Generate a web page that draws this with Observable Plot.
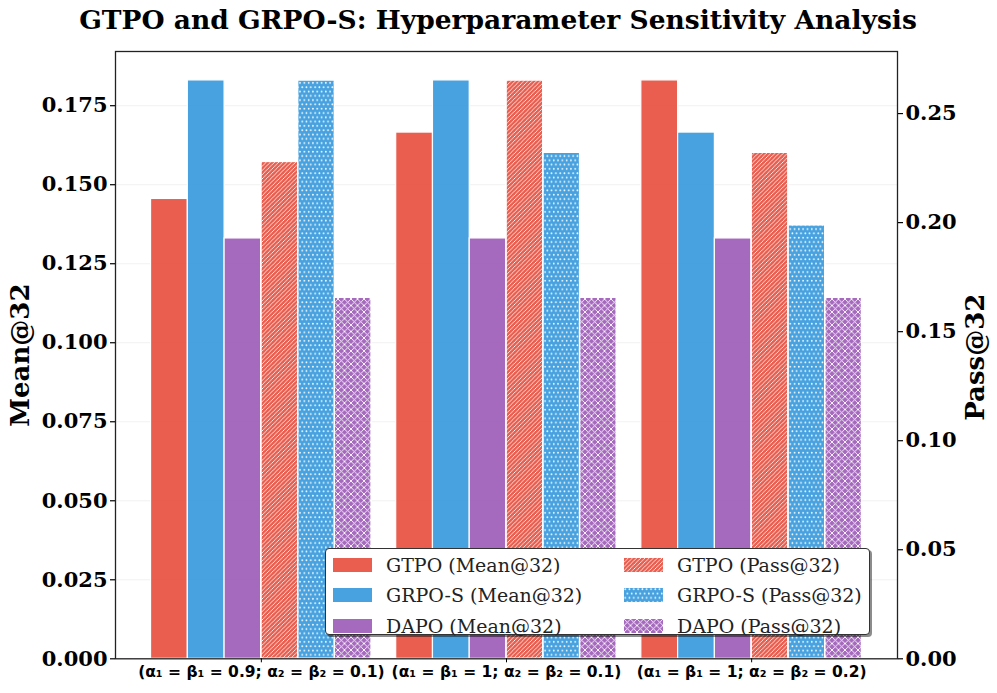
<!DOCTYPE html>
<html>
<head>
<meta charset="utf-8">
<script src="https://cdn.jsdelivr.net/npm/d3@7"></script>
<script src="https://cdn.jsdelivr.net/npm/@observablehq/plot@0.6"></script>
<style>
  html, body { margin: 0; padding: 0; background: #fff; }
  #wrap { position: relative; width: 997px; height: 693px; }
  #legend { position: absolute; left: 325px; top: 548px; width: 545px; height: 87px;
    box-sizing: border-box; border: 1px solid #333; border-radius: 4px; background: #fff;
    box-shadow: 2px 2px 0 rgba(0,0,0,0.45); font-family: "DejaVu Serif", serif; font-size: 19px; color: #222; }
  .item { position: absolute; height: 20px; display: flex; align-items: center; }
  .item svg { display: block; }
  .item span { position: absolute; left: 53px; white-space: nowrap; line-height: 20px; top: 0; }
</style>
</head>
<body>
<svg width="0" height="0" style="position:absolute">
  <defs>
    <pattern id="hatch-diag" patternUnits="userSpaceOnUse" width="4.2" height="4.2">
      <path d="M-1,1 L1,-1 M0,4.2 L4.2,0 M3.2,5.2 L5.2,3.2" stroke="#fff" stroke-width="0.8"/>
    </pattern>
    <pattern id="hatch-dots" patternUnits="userSpaceOnUse" width="4.3" height="8.6">
      <circle cx="1.2" cy="1.2" r="0.85" fill="#fff"/>
      <circle cx="3.35" cy="5.5" r="0.85" fill="#fff"/>
    </pattern>
    <pattern id="hatch-cross" patternUnits="userSpaceOnUse" width="6.5" height="6.5">
      <path d="M-1,1 L1,-1 M0,6.5 L6.5,0 M5.5,7.5 L7.5,5.5 M-1,5.5 L1,7.5 M0,0 L6.5,6.5 M5.5,-1 L7.5,1" stroke="#fff" stroke-width="0.9"/>
    </pattern>
  </defs>
</svg>
<div id="wrap"></div>
<script>
// ---- data ----
const groups = ["(α₁ = β₁ = 0.9; α₂ = β₂ = 0.1)", "(α₁ = β₁ = 1; α₂ = β₂ = 0.1)", "(α₁ = β₁ = 1; α₂ = β₂ = 0.2)"];
const methods = ["GTPO", "GRPO-S", "DAPO"];
const colors = ["#e74c3c", "#3498db", "#9b59b6"];
const patterns = ["url(#hatch-diag)", "url(#hatch-dots)", "url(#hatch-cross)"];
const meanGTPO  = [0.1455, 0.1665, 0.1830];
const meanGRPOS = [0.1830, 0.1830, 0.1665];
const meanDAPO  = [0.1330, 0.1330, 0.1330];
const passGTPO  = [0.2278, 0.2652, 0.2320];
const passGRPOS = [0.2652, 0.2320, 0.1988];
const passDAPO  = [0.1655, 0.1655, 0.1655];
const leftTicks  = [0, 0.025, 0.05, 0.075, 0.1, 0.125, 0.15, 0.175];
const rightTicks = [0, 0.05, 0.1, 0.15, 0.2, 0.25];

const meanVals = [meanGTPO, meanGRPOS, meanDAPO];
const passVals = [passGTPO, passGRPOS, passDAPO];
const leftMax = d3.max(meanVals.flat()) * 1.05;
const rightMax = d3.max(passVals.flat()) * 1.05;
const k = leftMax / rightMax;
const barW = 0.15;

const rows = [];
groups.forEach((g, gi) => {
  methods.forEach((m, mi) => rows.push({gi, slot: mi, method: m, metric: "Mean@32", value: meanVals[mi][gi], yv: meanVals[mi][gi]}));
  methods.forEach((m, mi) => rows.push({gi, slot: 3 + mi, method: m, metric: "Pass@32", value: passVals[mi][gi], yv: passVals[mi][gi] * k}));
});
const X1 = d => d.gi + (d.slot - 3) * barW;
const X2 = d => d.gi + (d.slot - 2) * barW;

const serif = "DejaVu Serif";
const lo = -0.45 - 0.05 * 2.9, hi = 2.45 + 0.05 * 2.9;

const chart = Plot.plot({
  width: 997, height: 693,
  marginLeft: 115, marginRight: 100, marginTop: 51, marginBottom: 34.7,
  style: {fontFamily: serif, color: "#000", background: "#fff"},
  x: {type: "linear", domain: [lo, hi], axis: null},
  y: {domain: [0, leftMax], axis: null},
  color: {domain: methods, range: colors},
  marks: [
    Plot.gridY(leftTicks, {stroke: "#b0b0b0", strokeOpacity: 0.18, strokeWidth: 1}),
    Plot.rect(rows, {x1: X1, x2: X2, y1: 0, y2: "yv", fill: "method", fillOpacity: 0.9, stroke: "#fff", strokeWidth: 1.2}),
    ...methods.map((m, mi) => Plot.rect(rows.filter(d => d.metric === "Pass@32" && d.method === m),
      {x1: X1, x2: X2, y1: 0, y2: "yv", fill: patterns[mi], stroke: "#fff", strokeWidth: 1.2})),
    Plot.frame({stroke: "#222", strokeWidth: 1.3}),
    Plot.axisY(leftTicks, {anchor: "left", tickSize: 5, tickPadding: 3, tickFormat: d => d3.format(".3f")(d),
      fontSize: 21, fontWeight: "bold", label: null, strokeWidth: 1.2}),
    Plot.axisY(rightTicks, {anchor: "right", y: d => d * k, tickSize: 5, tickPadding: 3, tickFormat: d => d3.format(".2f")(d),
      fontSize: 21, fontWeight: "bold", label: null, strokeWidth: 1.2}),
    Plot.axisX([0, 1, 2], {anchor: "bottom", tickSize: 4, tickPadding: 3, tickFormat: i => groups[i],
      fontSize: 15.5, fontWeight: "bold", fontFamily: "DejaVu Sans", label: null, strokeWidth: 1}),
    Plot.text(["GTPO and GRPO-S: Hyperparameter Sensitivity Analysis"], {frameAnchor: "top", lineAnchor: "middle", textAnchor: "middle", dx: -8.5, dy: -31, fontSize: 26.5, fontWeight: "bold", fill: "#000"}),
    Plot.text(["Mean@32"], {frameAnchor: "left", textAnchor: "middle", lineAnchor: "middle", dx: -95, rotate: -90, fontSize: 26, fontWeight: "bold", fill: "#000"}),
    Plot.text(["Pass@32"], {frameAnchor: "right", textAnchor: "middle", lineAnchor: "middle", dx: 78, dy: 2, rotate: -90, fontSize: 26, fontWeight: "bold", fill: "#000"})
  ]
});

const wrap = document.getElementById("wrap");
wrap.appendChild(chart);

// ---- legend ----
const legend = document.createElement("div");
legend.id = "legend";
const rowTops = [6, 36, 67];
const colLefts = [7, 298];
["Mean@32", "Pass@32"].forEach((metric, ci) => {
  methods.forEach((m, mi) => {
    const item = document.createElement("div");
    item.className = "item";
    item.style.left = colLefts[ci] + "px";
    item.style.top = rowTops[mi] + "px";
    const hatch = ci === 1 ? `<rect width="39" height="14" fill="${patterns[mi]}"/>` : "";
    item.innerHTML = `<svg width="39" height="14"><rect width="39" height="14" fill="${colors[mi]}" fill-opacity="0.9"/>${hatch}</svg><span>${m} (${metric})</span>`;
    legend.appendChild(item);
  });
});
wrap.appendChild(legend);
</script>
</body>
</html>
